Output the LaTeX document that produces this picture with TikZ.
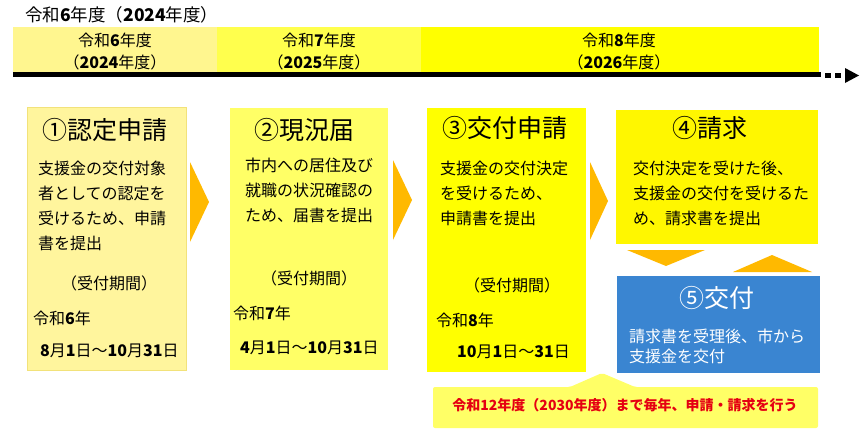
\documentclass[tikz,border=0pt]{standalone}
\usepackage{fontspec}
\setmainfont{Noto Sans CJK JP}
\newcommand\dg[1]{\textbf{#1}}
\definecolor{bara}{HTML}{FFF68F}
\definecolor{barb}{HTML}{FFFF4D}
\definecolor{barc}{HTML}{FFFF00}
\definecolor{boxa}{HTML}{FFF59D}
\definecolor{boxaline}{HTML}{F2E27A}
\definecolor{boxb}{HTML}{FFFF66}
\definecolor{boxc}{HTML}{FFFF00}
\definecolor{boxd}{HTML}{FFF700}
\definecolor{chev}{HTML}{FFB900}
\definecolor{bluebox}{HTML}{3A85D1}
\definecolor{callc}{HTML}{FFFF66}
\definecolor{redtext}{HTML}{E50012}
\tikzset{
  bar/.style={inner sep=0, outer sep=0, anchor=north west},
  stepbox/.style={inner sep=0, outer sep=0, anchor=north west},
  bartext/.style={font=\fontsize{16}{16}\selectfont, inner sep=0},
  title/.style={font=\fontsize{25}{25}\selectfont, inner sep=0},
  body/.style={font=\fontsize{16}{25}\selectfont, align=left, inner sep=0, anchor=west},
  small/.style={font=\fontsize{16}{16}\selectfont, inner sep=0},
}
\begin{document}
\begin{tikzpicture}[x=1pt,y=-1pt]
\useasboundingbox (0,0) rectangle (868,442);
\fill[white] (0,0) rectangle (868,442);

% header
\node[font=\fontsize{17.5}{17.5}\selectfont, anchor=west, inner sep=0] (hdr) at (25,15) {令和\dg{6}年度（\dg{2024}年度）};

% year bars
\node[bar, fill=bara, minimum width=204, minimum height=45] (bar1) at (13,27) {};
\node[bar, fill=barb, minimum width=204, minimum height=45] (bar2) at (217,27) {};
\node[bar, fill=barc, minimum width=398, minimum height=45] (bar3) at (421,27) {};
\node[bartext] (bar1a) at (115,40) {令和\dg{6}年度};
\node[bartext] (bar1b) at (115,62) {（\dg{2024}年度）};
\node[bartext] (bar2a) at (319,40) {令和\dg{7}年度};
\node[bartext] (bar2b) at (319,62) {（\dg{2025}年度）};
\node[bartext] (bar3a) at (619,40) {令和\dg{8}年度};
\node[bartext] (bar3b) at (619,62) {（\dg{2026}年度）};

% time line
\fill[black] (13,72) rectangle (821,77);
\fill[black] (825,73) rectangle (831,78);
\fill[black] (835,73) rectangle (841,78);
\fill[black] (845,68) -- (859,75.5) -- (845,83) -- cycle;

% boxes
\node[stepbox, fill=boxa, draw=boxaline, line width=0.6pt, minimum width=159, minimum height=263] (b1) at (27,107) {};
\node[stepbox, fill=boxb, minimum width=158, minimum height=262] (b2) at (230,108) {};
\node[stepbox, fill=boxc, minimum width=159, minimum height=264] (b3) at (427,108) {};
\node[stepbox, fill=boxd, minimum width=202, minimum height=134] (b4) at (616,110) {};
\node[stepbox, fill=bluebox, minimum width=203, minimum height=97] (b5) at (617,276) {};

% chevrons
\fill[chev] (190,162) -- (209,202) -- (190,242) -- cycle;
\fill[chev] (393,160) -- (412,200) -- (393,240) -- cycle;
\fill[chev] (590,162) -- (608,201) -- (590,240) -- cycle;
\fill[chev] (627,250) -- (705,250) -- (666,266) -- cycle;
\fill[chev] (733,272) -- (772,255) -- (812,272) -- cycle;

% box 1
\node[title] (t1) at (105,130) {①認定申請};
\node[body] (d1) at (38,205.5) {支援金の交付対象\\者としての認定を\\受けるため、申請\\書を提出};
\node[small] (p1) at (109,283) {（受付期間）};
\node[small, anchor=west] (y1) at (33,318) {令和\dg{6}年};
\node[small, anchor=west] (r1) at (40,351) {\dg{8}月\dg{1}日～\dg{10}月\dg{31}日};

% box 2
\node[title] (t2) at (304,130) {②現況届};
\node[body] (d2) at (245,190) {市内への居住及び\\就職の状況確認の\\ため、届書を提出};
\node[small] (p2) at (309,278) {（受付期間）};
\node[small, anchor=west] (y2) at (233,313) {令和\dg{7}年};
\node[small, anchor=west] (r2) at (240,348) {\dg{4}月\dg{1}日～\dg{10}月\dg{31}日};

% box 3
\node[title] (t3) at (505,128) {③交付申請};
\node[body] (d3) at (440,193) {支援金の交付決定\\を受けるため、\\申請書を提出};
\node[small] (p3) at (512,285) {（受付期間）};
\node[small, anchor=west] (y3) at (436,320) {令和\dg{8}年};
\node[small, anchor=west] (r3) at (457,352) {\dg{10}月\dg{1}日～\dg{31}日};

% box 4
\node[title] (t4) at (710,128) {④請求};
\node[body] (d4) at (633,193) {交付決定を受けた後、\\支援金の交付を受けるた\\め、請求書を提出};

% box 5
\node[title, text=white] (t5) at (717,298) {⑤交付};
\node[body, text=white, font=\fontsize{16}{19.5}\selectfont] (d5) at (629,346.5) {請求書を受理後、市から\\支援金を交付};

% callout
\fill[callc, rounded corners=2] (433,387) -- (570,387) -- (602,373) -- (635,387) -- (818,387) -- (818,428) -- (433,428) -- cycle;
\node[font=\fontsize{14}{14}\selectfont\bfseries, text=redtext, inner sep=0] (note) at (625,405) {令和12年度（2030年度）まで毎年、申請・請求を行う};
\end{tikzpicture}
\end{document}
